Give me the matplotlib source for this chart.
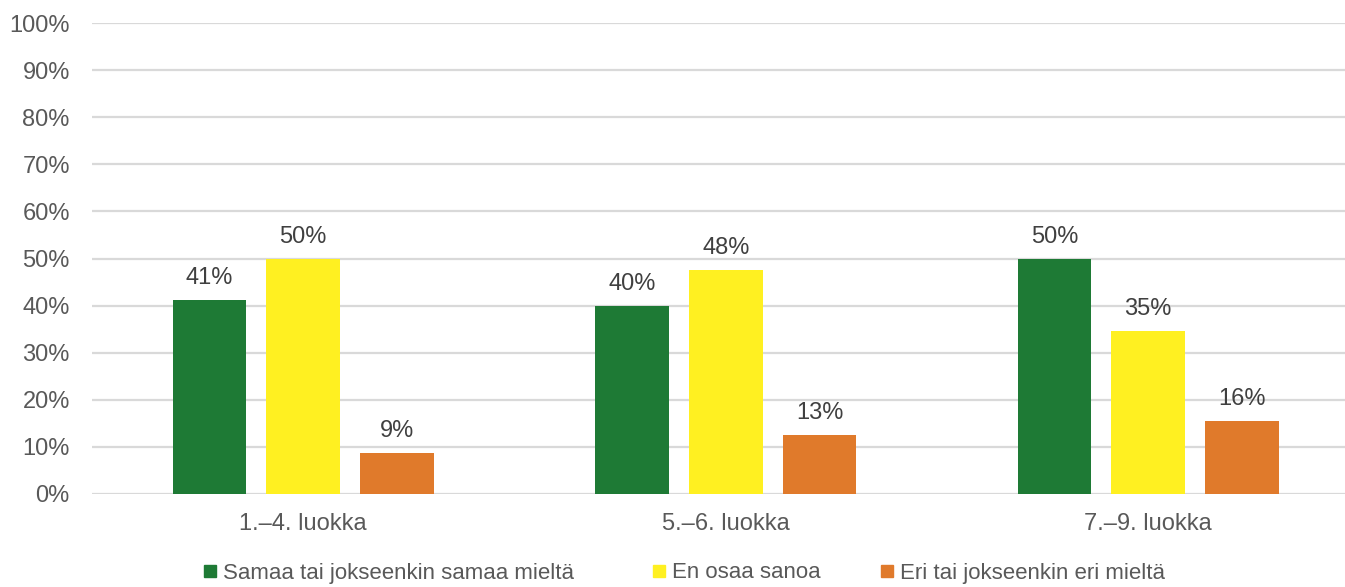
import matplotlib
matplotlib.use("Agg")
import matplotlib.pyplot as plt
from matplotlib.lines import Line2D
import numpy as np

plt.rcParams['font.family'] = ['Liberation Sans', 'DejaVu Sans']

categories = ["1.–4. luokka", "5.–6. luokka", "7.–9. luokka"]
series_names = ["Samaa tai jokseenkin samaa mieltä", "En osaa sanoa", "Eri tai jokseenkin eri mieltä"]
samaa = [41.2, 39.9, 49.9]
en_osaa = [49.9, 47.6, 34.6]
eri = [8.7, 12.6, 15.6]
yticks = [0, 10, 20, 30, 40, 50, 60, 70, 80, 90, 100]

colors = ["#1E7A35", "#FFF021", "#E07A2B"]
series = [samaa, en_osaa, eri]

W, H = 1345, 587
fig = plt.figure(figsize=(W / 100, H / 100), dpi=100)
ax = fig.add_axes([92 / W, 1 - 494 / H, (W - 92) / W, (494 - 23) / H])

x = np.arange(len(categories))
width = 0.174
offset = 0.222
for i, (vals, c) in enumerate(zip(series, colors)):
    pos = x + (i - 1) * offset
    ax.bar(pos, vals, width, color=c, zorder=3)
    for p, v in zip(pos, vals):
        ax.text(p, v + 3.4, f"{v:.0f}%", ha="center", va="baseline",
                fontsize=17, color="#404040")

ax.set_xlim(-0.5, -0.5 + (W - 92) / 422.5)
ax.set_ylim(0, 100)
ax.set_yticks(yticks)
ax.set_yticklabels([f"{t}%" for t in yticks])
ax.set_xticks(x)
ax.set_xticklabels(categories)
ax.tick_params(axis="both", length=0, labelsize=17, colors="#595959")
ax.tick_params(axis="y", pad=16)
ax.tick_params(axis="x", pad=14)
ax.yaxis.grid(True, color="#D9D9D9", linewidth=1.6, zorder=0)
for s in ax.spines.values():
    s.set_visible(False)

legend_x = [203, 652, 880]
for name, c, lx in zip(series_names, colors, legend_x):
    h = Line2D([], [], marker="s", linestyle="none", markersize=8.6,
               markerfacecolor=c, markeredgecolor=c)
    leg = fig.legend([h], [name], loc="center left", bbox_to_anchor=(lx / W, 1 - 573 / H),
                     frameon=False, fontsize=16, handlelength=0.6,
                     handletextpad=0.3, borderaxespad=0, borderpad=0)
    for t in leg.get_texts():
        t.set_color("#595959")

fig.savefig("out.png", dpi=100)
